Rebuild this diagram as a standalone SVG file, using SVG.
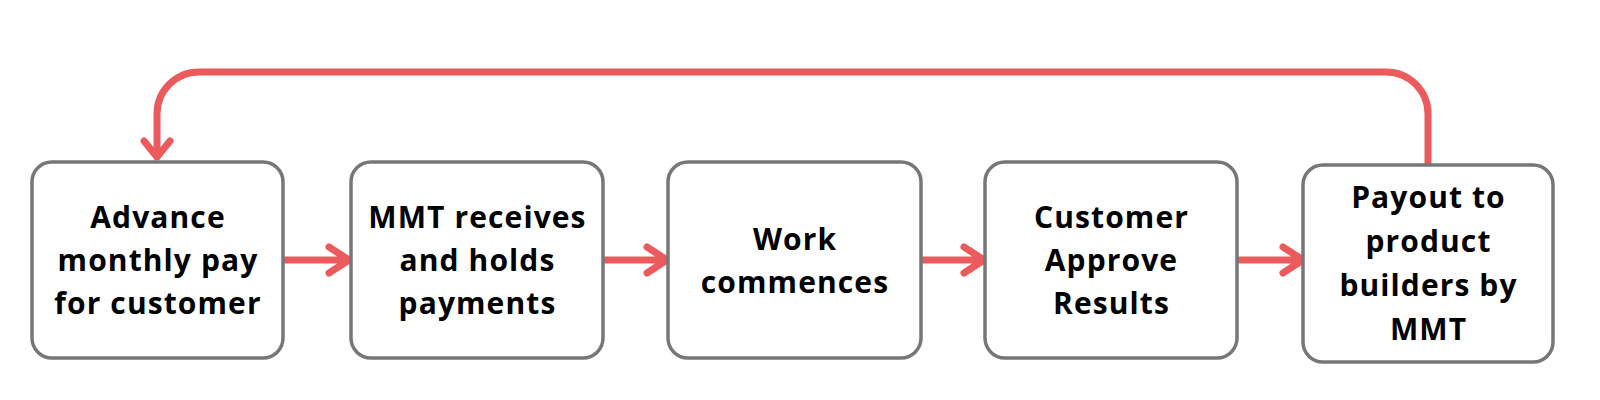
<svg xmlns="http://www.w3.org/2000/svg" width="1600" height="400" viewBox="0 0 1600 400">
<style>
.box{fill:#fff;stroke:#777;stroke-width:3.5}
.t{font-family:"Open Sans","Liberation Sans",sans-serif;font-weight:700;font-size:30px;letter-spacing:1.1px;fill:#000;text-anchor:middle}
.c{fill:none;stroke:#EB5A5D;stroke-width:7;stroke-linecap:round;stroke-linejoin:round}
</style>
<rect width="1600" height="400" fill="#fff"/>
<g id="connectors">
<path class="c" d="M283 260H349M329 247L349 260L329 273"/>
<path class="c" d="M603 260H667M647 247L667 260L647 273"/>
<path class="c" d="M921 260H984M964 247L984 260L964 273"/>
<path class="c" d="M1240 260H1303M1283 247L1303 260L1283 273"/>
<path class="c" d="M1428 163V114A42 42 0 0 0 1386 72H199A42 42 0 0 0 157 114V157M144 141L157 157L170 141"/>
</g>
<g id="n1"><rect class="box" x="32" y="162" width="251" height="196" rx="20"/>
<text class="t"><tspan x="158" y="228">Advance</tspan><tspan x="158" y="271">monthly pay</tspan><tspan x="158" y="314">for customer</tspan></text></g>
<g id="n2"><rect class="box" x="351" y="162" width="252" height="196" rx="20"/>
<text class="t"><tspan x="477.5" y="228">MMT receives</tspan><tspan x="477.5" y="271">and holds</tspan><tspan x="477.5" y="314">payments</tspan></text></g>
<g id="n3"><rect class="box" x="668" y="162" width="253" height="196" rx="20"/>
<text class="t"><tspan x="795" y="250">Work</tspan><tspan x="795" y="293">commences</tspan></text></g>
<g id="n4"><rect class="box" x="985" y="162" width="252" height="196" rx="20"/>
<text class="t"><tspan x="1111.5" y="228">Customer</tspan><tspan x="1111.5" y="271">Approve</tspan><tspan x="1111.5" y="314">Results</tspan></text></g>
<g id="n5"><rect class="box" x="1303" y="165" width="250" height="197" rx="20"/>
<text class="t"><tspan x="1428.5" y="208">Payout to</tspan><tspan x="1428.5" y="252">product</tspan><tspan x="1428.5" y="296">builders by</tspan><tspan x="1428.5" y="340">MMT</tspan></text></g>
</svg>
